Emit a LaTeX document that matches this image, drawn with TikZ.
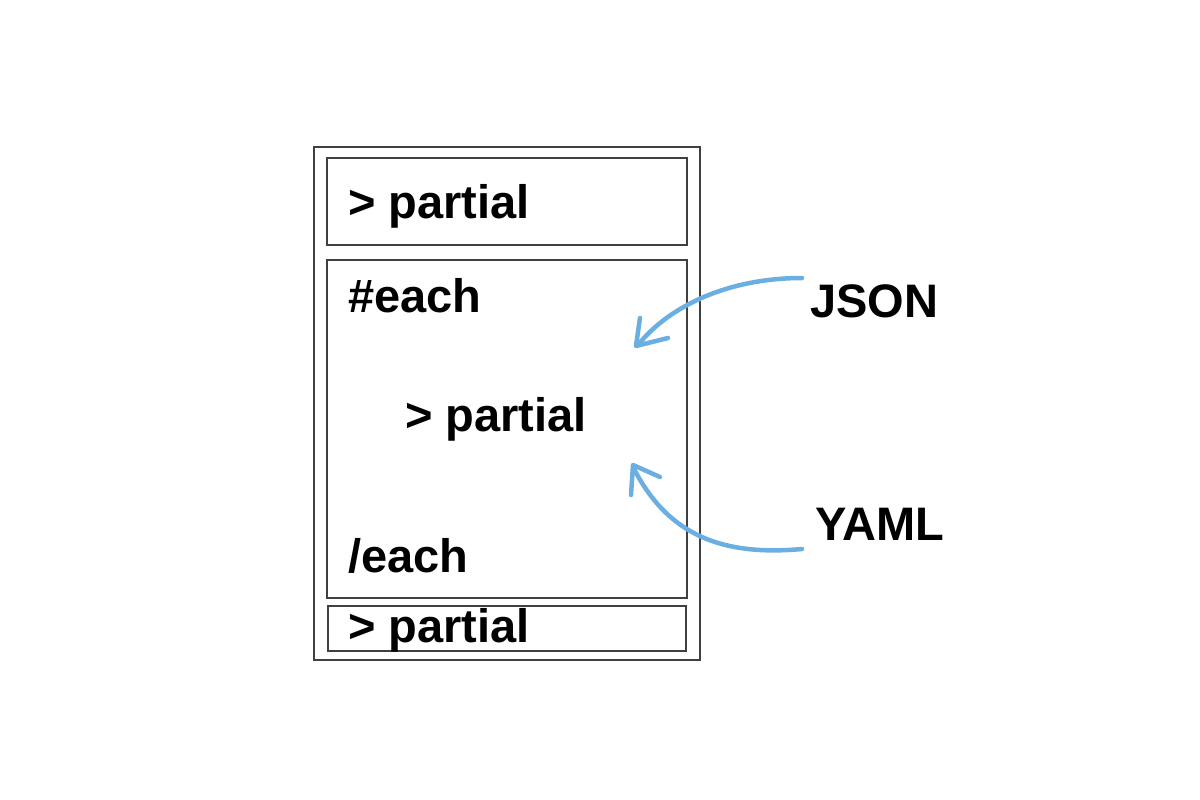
\documentclass[tikz,border=0pt]{standalone}
\usepackage{fontspec}
\setmainfont{Liberation Sans}
\definecolor{sketchblue}{RGB}{106,174,226}
\begin{document}
\begin{tikzpicture}[x=1pt,y=-1pt,
  box/.style={draw=black!75,line width=1.2pt},
  lbl/.style={anchor=base west,inner sep=0pt,font=\fontsize{47}{50}\selectfont\bfseries},
  sk/.style={draw=sketchblue,line width=4.5pt,line cap=round,line join=round}]
\useasboundingbox (0,0) rectangle (1200,800);
\draw[box] (314,147) rectangle (700,660);
\draw[box] (327,158) rectangle (687,245);
\draw[box] (327,260) rectangle (687,598);
\draw[box] (328,606) rectangle (686,651);
\node[lbl] (p1) at (348,218) {> partial};
\node[lbl] (e1) at (348,312) {\#each};
\node[lbl] (p2) at (405,431) {> partial};
\node[lbl] (e2) at (348,572) {/each};
\node[lbl] (p3) at (348,642) {> partial};
\node[lbl] (json) at (810,317) {JSON};
\node[lbl] (yaml) at (815,540) {YAML};
\coordinate (js) at (802,278);
\coordinate (jt) at (638,345);
\coordinate (ys) at (802,549);
\coordinate (yt) at (633,467);
\draw[sk] (js) .. controls (730,278) and (670,305) .. (jt);
\draw[sk] (640,318) -- (636,346) -- (668,338);
\draw[sk] (ys) .. controls (715,557) and (665,530) .. (yt);
\draw[sk] (631,495) -- (633,465) -- (660,477);
\end{tikzpicture}
\end{document}
